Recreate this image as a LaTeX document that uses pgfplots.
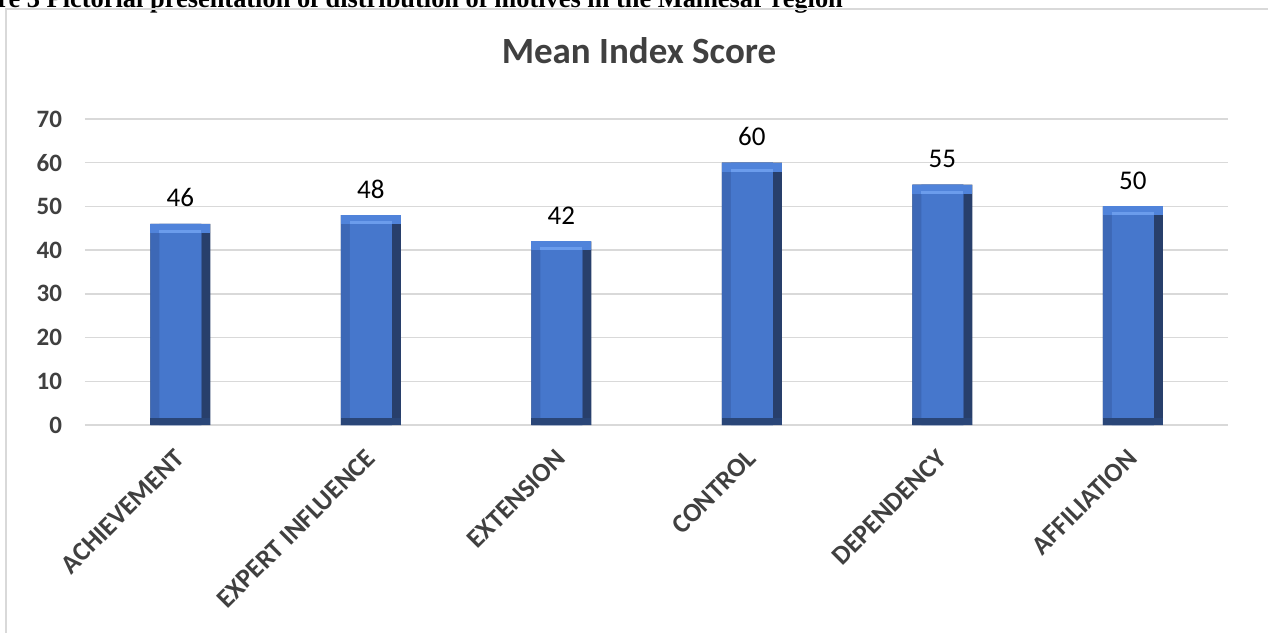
\documentclass[border=0pt]{standalone}
\usepackage{pgfplots}
\pgfplotsset{compat=1.18}
\usepackage{pgfplotstable}
\usepackage{fontspec}
\setmainfont{Carlito}
\newfontfamily\capfont{Liberation Serif}
\definecolor{gridgray}{HTML}{D9D9D9}
\definecolor{txtgray}{HTML}{404040}
\definecolor{bardark}{HTML}{283F6B}
\definecolor{barleft}{HTML}{3D68B6}
\definecolor{barface}{HTML}{4677CC}
\definecolor{bartop}{HTML}{5083DA}
\definecolor{barlight}{HTML}{6B9CEC}
\definecolor{barbot}{HTML}{2A4678}
\pgfplotstableread{
x y b
0 46 0
1 48 0
2 42 0
3 60 0
4 55 0
5 50 0
}\datatable
\begin{document}
\begin{tikzpicture}
\useasboundingbox (0,0) rectangle (634pt,316pt);
\clip (0,0) rectangle (634pt,316pt);
\fill[white] (0,0) rectangle (634pt,316pt);
\node[anchor=base west, inner sep=0pt, font=\capfont\bfseries\fontsize{13.2}{15}\selectfont] at (-1.5pt,312.25pt) {re 3 Pictorial presentation of distribution of motives in the Malhesar region};
\draw[gridgray, line width=0.75pt] (3pt,-5pt) -- (3pt,311.5pt) -- (640pt,311.5pt);
\node[anchor=base, inner sep=0pt, text=txtgray, font=\bfseries\fontsize{18.5}{21}\selectfont] at (319.5pt,284pt) {Mean Index Score};
\begin{axis}[
  at={(42.5pt,103.5pt)}, anchor=south west,
  width=571.5pt, height=153pt, scale only axis,
  xmin=-0.5, xmax=5.5, ymin=0, ymax=70,
  axis line style={draw=none},
  ytick={0,10,...,70},
  ymajorgrids, grid style={draw=gridgray, line width=0.75pt},
  xtick={0,...,5},
  xticklabels={ACHIEVEMENT,EXPERT INFLUENCE,EXTENSION,CONTROL,DEPENDENCY,AFFILIATION},
  major tick length=0pt,
  /pgf/number format/assume math mode=true,
  yticklabel style={anchor=east, xshift=-8pt, text=txtgray, font=\bfseries\fontsize{12.5}{14}\selectfont},
  xticklabel style={rotate=45, anchor=east, xshift=-6.9pt, yshift=-10.2pt, text=txtgray, font=\bfseries\fontsize{13.3}{15}\selectfont},
  clip=false,
]
\addplot[ybar, bar width=30pt, bar shift=0pt, fill=bardark, draw=none,
  nodes near coords,
  every node near coord/.append style={anchor=base, yshift=8.5pt, text=black, font=\fontsize{13.5}{16}\selectfont}]
  table[x=x, y=y]{\datatable};
\addplot[ybar, bar width=25.5pt, bar shift=-2.25pt, fill=barleft, draw=none] table[x=x, y=y]{\datatable};
\addplot[ybar, bar width=21pt, bar shift=0pt, fill=barface, draw=none] table[x=x, y=y]{\datatable};
\addplot[only marks, mark=-, mark size=15pt, line width=4.5pt, color=bartop, mark options={yshift=-2.25pt}] table[x=x, y=y]{\datatable};
\addplot[only marks, mark=-, mark size=10.5pt, line width=1.5pt, color=barlight, mark options={yshift=-3.75pt}] table[x=x, y=y]{\datatable};
\addplot[only marks, mark=-, mark size=15pt, line width=3.5pt, color=barbot, mark options={yshift=1.75pt}] table[x=x, y=b]{\datatable};
\end{axis}
\end{tikzpicture}
\end{document}
